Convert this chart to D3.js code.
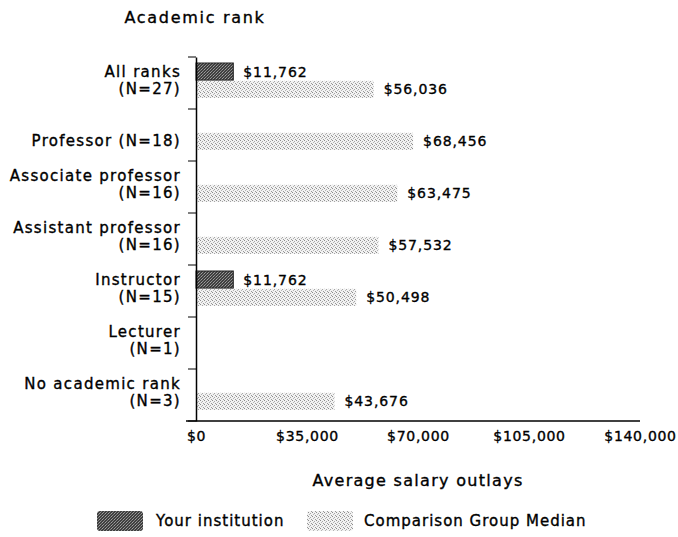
<!DOCTYPE html>
<html>
<head>
<meta charset="utf-8">
<script src="https://cdn.jsdelivr.net/npm/d3@7"></script>
<style>
  html, body { margin: 0; padding: 0; background: #fff; }
  svg text { font-family: "DejaVu Sans", Verdana, sans-serif; fill: #000; stroke: #000; stroke-width: 0.35px; }
</style>
</head>
<body>
<svg id="chart" width="678" height="537"></svg>
<script>
const categories = ["All ranks", "Professor", "Associate professor", "Assistant professor", "Instructor", "Lecturer", "No academic rank"];
const categoryLabels = [
  ["All ranks", "(N=27)"],
  ["Professor (N=18)"],
  ["Associate professor", "(N=16)"],
  ["Assistant professor", "(N=16)"],
  ["Instructor", "(N=15)"],
  ["Lecturer", "(N=1)"],
  ["No academic rank", "(N=3)"]
];
const seriesNames = ["Your institution", "Comparison Group Median"];
const yourInstitution = [11762, null, null, null, 11762, null, null];
const comparisonMedian = [56036, 68456, 63475, 57532, 50498, null, 43676];
const xTicks = [0, 35000, 70000, 105000, 140000];
const titleText = "Academic rank";
const xAxisTitle = "Average salary outlays";

const svg = d3.select("#chart");
const defs = svg.append("defs");

// stipple patterns
const pDark = defs.append("pattern").attr("id", "pDark").attr("patternUnits", "userSpaceOnUse")
  .attr("width", 3).attr("height", 3);
pDark.append("rect").attr("width", 3).attr("height", 3).attr("fill", "#3f3f3f");
pDark.append("rect").attr("x", 0).attr("y", 0).attr("width", 1).attr("height", 1).attr("fill", "#a0a0a0");
pDark.append("rect").attr("x", 2).attr("y", 1).attr("width", 1).attr("height", 1).attr("fill", "#808080");
pDark.append("rect").attr("x", 1).attr("y", 2).attr("width", 1).attr("height", 1).attr("fill", "#909090");

const pLight = defs.append("pattern").attr("id", "pLight").attr("patternUnits", "userSpaceOnUse")
  .attr("width", 4).attr("height", 4);
pLight.append("rect").attr("width", 4).attr("height", 4).attr("fill", "#f2f2f2");
pLight.append("rect").attr("x", 0).attr("y", 0).attr("width", 1).attr("height", 1).attr("fill", "#8c8c8c");
pLight.append("rect").attr("x", 2).attr("y", 1).attr("width", 1).attr("height", 1).attr("fill", "#a6a6a6");
pLight.append("rect").attr("x", 1).attr("y", 2).attr("width", 1).attr("height", 1).attr("fill", "#b4b4b4");
pLight.append("rect").attr("x", 3).attr("y", 3).attr("width", 1).attr("height", 1).attr("fill", "#9a9a9a");

const x = d3.scaleLinear().domain([0, 140000]).range([196, 640]);
const y = d3.scaleBand().domain(categories).range([57, 421]);
const inner = d3.scaleBand().domain(seriesNames).range([6, 41]).paddingInner(0.04);

const fmt = v => "$" + d3.format(",")(v);

// Title
svg.append("text").attr("x", 195).attr("y", 17).attr("dy", "0.36em").attr("text-anchor", "middle")
  .style("font-size", "16px").style("letter-spacing", "1.7px").text(titleText);

// Bars
const rows = categories.map((c, i) => ({ cat: c, vals: [yourInstitution[i], comparisonMedian[i]] }));
const g = svg.append("g");
rows.forEach(r => {
  r.vals.forEach((v, j) => {
    if (v == null) return;
    const yy = y(r.cat) + inner(seriesNames[j]);
    g.append("rect")
      .attr("x", x(0)).attr("y", yy)
      .attr("width", x(v) - x(0)).attr("height", inner.bandwidth())
      .attr("fill", j === 0 ? "url(#pDark)" : "url(#pLight)")
      .attr("stroke", j === 0 ? "#222" : "none").attr("stroke-width", 1);
    g.append("text")
      .attr("x", x(v) + 10).attr("y", yy + inner.bandwidth() / 2)
      .attr("dy", "0.36em")
      .style("font-size", "14px").style("letter-spacing", "0.9px")
      .text(fmt(v));
  });
});

// Y axis
const yAxis = d3.axisLeft(y).tickSize(0).tickFormat("");
const yg = svg.append("g").attr("transform", `translate(${x(0)},0)`).call(yAxis);
yg.select(".domain").attr("stroke", "#000").attr("stroke-width", 1.5);
const boundaries = categories.map(c => y(c)).concat([y.range()[1]]);
yg.selectAll(".bticks").data(boundaries).enter().append("line")
  .attr("x1", -8).attr("x2", 0).attr("y1", d => d).attr("y2", d => d)
  .attr("stroke", "#000").attr("stroke-width", 1);

// Category labels
categoryLabels.forEach((lines, i) => {
  const cy = y(categories[i]) + y.bandwidth() / 2 + 5.5;
  const n = lines.length;
  lines.forEach((t, k) => {
    svg.append("text")
      .attr("x", 181).attr("y", cy - (n - 1 - k) * 16.5).attr("dy", "0.36em")
      .attr("text-anchor", "end")
      .style("font-size", "15px").style("letter-spacing", "1.3px")
      .text(t);
  });
});

// X axis
const xAxis = d3.axisBottom(x).tickValues(xTicks).tickSize(0).tickPadding(10).tickFormat(fmt);
const xg = svg.append("g").attr("transform", `translate(0,${y.range()[1]})`).call(xAxis);
xg.select(".domain").remove();
xg.append("line").attr("x1", x(0) - 10).attr("x2", x(140000)).attr("y1", 0).attr("y2", 0)
  .attr("stroke", "#000").attr("stroke-width", 1.5);
xg.selectAll(".tick text").style("font-size", "14px").style("letter-spacing", "0.7px")
  .style("fill", "#000").style("font-family", "'DejaVu Sans', Verdana, sans-serif");

// X axis title
svg.append("text").attr("x", (x(0) + x(140000)) / 2).attr("y", 480).attr("dy", "0.36em").attr("text-anchor", "middle")
  .style("font-size", "16px").style("letter-spacing", "1.3px").text(xAxisTitle);

// Legend
const legendItems = [
  { name: seriesNames[0], fill: "url(#pDark)", sx: 97, tx: 156 },
  { name: seriesNames[1], fill: "url(#pLight)", sx: 307, tx: 364 }
];
const lg = svg.append("g");
legendItems.forEach(d => {
  lg.append("rect").attr("x", d.sx).attr("y", 511).attr("width", 46).attr("height", 20)
    .attr("rx", 3).attr("fill", d.fill);
  lg.append("text").attr("x", d.tx).attr("y", 521).attr("dy", "0.36em")
    .style("font-size", "15px").style("letter-spacing", "1px").text(d.name);
});
</script>
</body>
</html>
